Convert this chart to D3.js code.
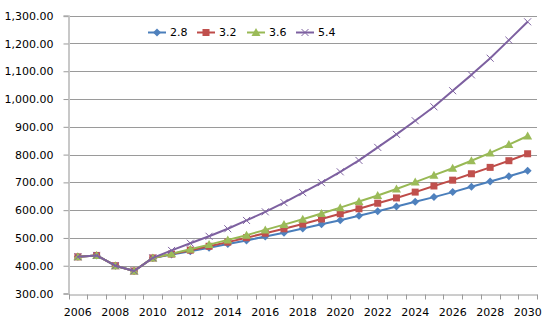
<!DOCTYPE html>
<html>
<head>
<meta charset="utf-8">
<script src="https://cdn.jsdelivr.net/npm/d3@7"></script>
<style>
  html, body { margin: 0; padding: 0; background: #fff; }
  svg { display: block; }
  text { font-family: "DejaVu Sans", Verdana, sans-serif; font-size: 11px; fill: #000; }
</style>
</head>
<body>
<svg id="chart" width="550" height="327"></svg>
<script>
const years = [2006,2007,2008,2009,2010,2011,2012,2013,2014,2015,2016,2017,2018,2019,2020,2021,2022,2023,2024,2025,2026,2027,2028,2029,2030];
const seriesNames = ["2.8", "3.2", "3.6", "5.4"];
const s28 = [432,437,400,381,428,440,452,465,478,491,505,519,534,549,564,580,596,613,630,647,665,684,703,722,742];
const s32 = [432,437,400,381,428,442,456,470,485,501,517,533,550,568,587,605,625,644,665,687,708,731,754,778,803];
const s36 = [432,437,400,381,428,443,459,476,493,510,529,548,567,588,609,631,653,676,701,726,751,778,806,836,867];
const s54 = [432,437,400,381,428,455,481,506,533,563,594,627,663,699,738,779,826,873,922,972,1030,1087,1147,1212,1278];
const yTicks = [300,400,500,600,700,800,900,1000,1100,1200,1300];
const xLabels = [2006,2008,2010,2012,2014,2016,2018,2020,2022,2024,2026,2028,2030];

const seriesData = [s28, s32, s36, s54];
const lineColors = ["#4A7EBB", "#BE4B48", "#98B954", "#7D60A0"];
const markColors = ["#4F81BD", "#C0504D", "#9BBB59", "#8064A2"];
const markTypes = ["diamond", "square", "triangle", "x"];

const svg = d3.select("#chart");
const pLeft = 68.5, pRight = 537, pTop = 15.7, pBottom = 293.5;

const x = d3.scaleBand().domain(years).range([pLeft, pRight]);
const y = d3.scaleLinear().domain([300, 1300]).range([pBottom, pTop]);
const cx = d => x(d) + x.bandwidth() / 2;

// gridlines
svg.append("g")
  .selectAll("line")
  .data(yTicks.filter(t => t > 300))
  .join("line")
  .attr("x1", pLeft).attr("x2", pRight)
  .attr("y1", d => Math.round(y(d)) + 0.5).attr("y2", d => Math.round(y(d)) + 0.5)
  .attr("stroke", "#9a9a9a").attr("stroke-width", 1);

// y axis
const yAxis = svg.append("g")
  .attr("transform", `translate(${pLeft},0)`)
  .call(d3.axisLeft(y).tickValues(yTicks).tickFormat(d3.format(",.2f")).tickSize(5).tickPadding(10));
yAxis.select(".domain").attr("stroke", "#c8c8c8").attr("stroke-width", 2);
yAxis.selectAll(".tick line").attr("stroke", "#9a9a9a");
yAxis.selectAll(".tick text").style("font-family", "DejaVu Sans").style("font-size", "11px").attr("fill", "#000");

// x axis
const xAxis = svg.append("g")
  .attr("transform", `translate(0,${Math.round(pBottom) + 0.5})`)
  .call(d3.axisBottom(x).tickValues(xLabels).tickSize(0).tickPadding(14));
xAxis.select(".domain").attr("stroke", "#9a9a9a");
xAxis.selectAll(".tick text").style("font-family", "DejaVu Sans").style("font-size", "11px").attr("fill", "#000");
xAxis.append("g").selectAll("line")
  .data(years.map(d => x(d)).concat([pRight]))
  .join("line")
  .attr("x1", d => Math.round(d) + 0.5).attr("x2", d => Math.round(d) + 0.5)
  .attr("y1", 0).attr("y2", 5)
  .attr("stroke", "#9a9a9a");

function drawMarker(g, type, color, px, py) {
  if (type === "diamond") {
    g.append("path").attr("d", `M${px},${py-4}L${px+4},${py}L${px},${py+4}L${px-4},${py}Z`).attr("fill", color);
  } else if (type === "square") {
    g.append("rect").attr("x", px-3.5).attr("y", py-3.5).attr("width", 7).attr("height", 7).attr("fill", color);
  } else if (type === "triangle") {
    g.append("path").attr("d", `M${px},${py-4.5}L${px+4.5},${py+3.5}L${px-4.5},${py+3.5}Z`).attr("fill", color);
  } else {
    g.append("path").attr("d", `M${px-3.5},${py-3.5}L${px+3.5},${py+3.5}M${px-3.5},${py+3.5}L${px+3.5},${py-3.5}`)
      .attr("stroke", color).attr("stroke-width", 1).attr("fill", "none");
  }
}

const line = d3.line().x((d, i) => cx(years[i])).y(d => y(d));
seriesData.forEach((data, k) => {
  const g = svg.append("g");
  g.append("path").datum(data).attr("d", line)
    .attr("fill", "none").attr("stroke", lineColors[k]).attr("stroke-width", 2).attr("stroke-linejoin", "round");
  data.forEach((v, i) => drawMarker(g, markTypes[k], markColors[k], cx(years[i]), y(v)));
});

// legend
const legendX = [148, 197, 247, 296];
const ly = 32.5;
seriesNames.forEach((name, k) => {
  const g = svg.append("g");
  g.append("line").attr("x1", legendX[k]).attr("x2", legendX[k] + 18).attr("y1", ly).attr("y2", ly)
    .attr("stroke", lineColors[k]).attr("stroke-width", 2);
  drawMarker(g, markTypes[k], markColors[k], legendX[k] + 9, ly);
  g.append("text").attr("x", legendX[k] + 22).attr("y", ly).attr("dy", "0.35em").text(name);
});
</script>
</body>
</html>
